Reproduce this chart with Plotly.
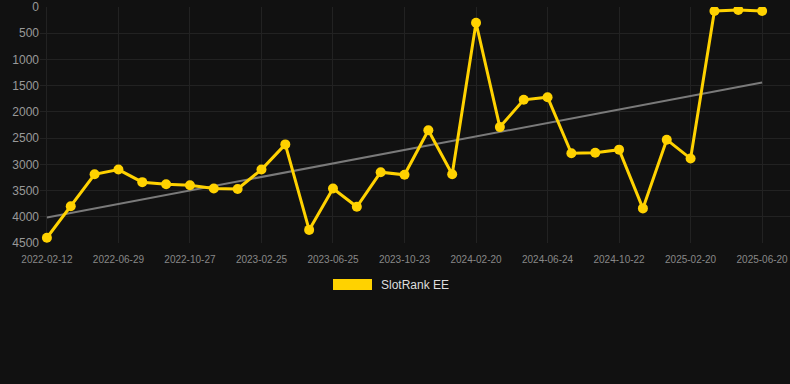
import numpy as np
import plotly.graph_objects as go

dates = [
    "2022-02-12", "2022-03-29", "2022-05-14", "2022-06-29", "2022-08-08",
    "2022-09-17", "2022-10-27", "2022-12-06", "2023-01-15", "2023-02-25",
    "2023-04-06", "2023-05-16", "2023-06-25", "2023-08-04", "2023-09-13",
    "2023-10-23", "2023-12-02", "2024-01-11", "2024-02-20", "2024-04-01",
    "2024-05-13", "2024-06-24", "2024-08-03", "2024-09-12", "2024-10-22",
    "2024-12-01", "2025-01-10", "2025-02-20", "2025-04-01", "2025-05-11",
    "2025-06-20",
]
ranks = [
    4400, 3800, 3190, 3100, 3340, 3380, 3400, 3460, 3470, 3100,
    2620, 4250, 3460, 3810, 3150, 3200, 2350, 3190, 300, 2290,
    1770, 1720, 2790, 2780, 2720, 3840, 2530, 2890, 75, 55, 75,
]
tick_dates = dates[::3]
y_ticks = [0, 500, 1000, 1500, 2000, 2500, 3000, 3500, 4000, 4500]
series_name = "SlotRank EE"

idx = np.arange(len(ranks))
slope, intercept = np.polyfit(idx, ranks, 1)
trend = slope * idx + intercept

fig = go.Figure()
fig.add_trace(go.Scatter(
    x=dates, y=trend, mode="lines",
    line=dict(color="#7a7a7a", width=2),
    showlegend=False, hoverinfo="skip",
))
fig.add_trace(go.Scatter(
    x=dates, y=ranks, mode="lines+markers", name=series_name,
    line=dict(color="#FFD200", width=3),
    marker=dict(color="#FFD200", size=10),
    showlegend=False,
))

# legend drawn as a swatch + text
fig.add_shape(type="rect", xref="paper", yref="paper",
              x0=(333 - 40) / 750, x1=(372 - 40) / 750,
              y0=(243 - 290) / 236, y1=(243 - 279) / 236,
              fillcolor="#FFD200", line=dict(width=0))
fig.add_annotation(xref="paper", yref="paper",
                   x=(379 - 40) / 750, y=(243 - 284.5) / 236,
                   text=series_name, showarrow=False,
                   xanchor="left", yanchor="middle",
                   font=dict(color="#dddddd", size=12,
                             family="Liberation Sans, Arial, sans-serif"))

fig.update_layout(
    width=790, height=384,
    margin=dict(l=40, r=0, t=7, b=141),
    paper_bgcolor="#111111", plot_bgcolor="#111111",
    font=dict(family="Liberation Sans, Arial, sans-serif"),
    showlegend=False,
    xaxis=dict(
        type="category",
        categoryorder="array", categoryarray=dates,
        range=[-0.29, 31.17],
        tickmode="array", tickvals=tick_dates, ticktext=tick_dates,
        tickfont=dict(color="#888888", size=10),
        showgrid=True, gridcolor="#222222", gridwidth=1,
        zeroline=False, showline=False, ticks="",
        ticklabelstandoff=9,
    ),
    yaxis=dict(
        range=[4500, 0],
        tickmode="array", tickvals=y_ticks,
        tickfont=dict(color="#999999", size=12),
        showgrid=True, gridcolor="#222222", gridwidth=1,
        zeroline=False, showline=False, ticks="",
    ),
)

fig.write_html(
    "out.html",
    config={"displayModeBar": False},
    post_script="document.body.style.margin='0px';document.body.style.background='#111111';",
)
